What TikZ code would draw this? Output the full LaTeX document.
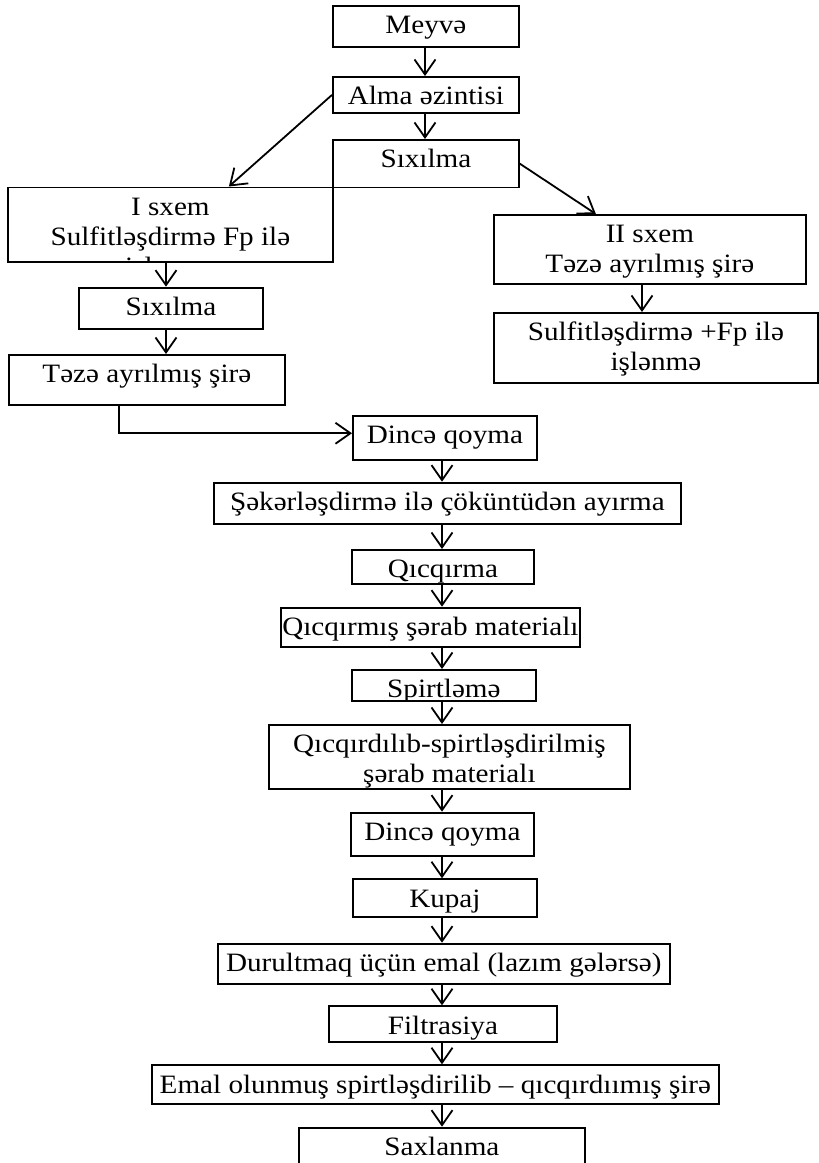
\documentclass[tikz,border=0pt]{standalone}
\usepackage{fontspec}
\setmainfont[FakeStretch=1.1]{Liberation Serif}
\usetikzlibrary{arrows.meta,calc}

% Frame whose text sits at a fixed distance below its top edge (first baseline 28pt down)
\newcommand\flowbox[6]{%
  \pgfmathsetmacro\fbW{#4-#2}%
  \pgfmathsetmacro\fbD{#5-#3-28}%
  \node[frame, minimum width=\fbW pt, text height=28pt, text depth=\fbD pt] (#1) at (#2,#3) {#6};%
}
% Same frame, but its text is cut off at the frame border
\newcommand\clippedbox[6]{%
  \pgfmathsetmacro\fbW{#4-#2}%
  \pgfmathsetmacro\fbH{#5-#3}%
  \node[frame, minimum width=\fbW pt, minimum height=\fbH pt,
        path picture={\node[boxtext, anchor=base] (#1-text)
          at ([yshift=-28pt]path picture bounding box.north) {#6};}] (#1) at (#2,#3) {};%
}
\newcommand\twolines[2]{\begin{tabular}[t]{@{}c@{}}#1\\#2\end{tabular}}
\newcommand\threelines[3]{\begin{tabular}[t]{@{}c@{}}#1\\#2\\#3\end{tabular}}

\begin{document}
\begin{tikzpicture}[x=1pt, y=-1pt,
  boxtext/.style={font=\fontsize{26.5}{30}\selectfont, inner sep=0pt},
  frame/.style={draw, line width=1.8pt, inner sep=0pt, anchor=north west,
                font=\fontsize{26.5}{30}\selectfont},
  arr/.style={line width=1.8pt, -{Straight Barb[length=15pt, width=21pt, line width=1.8pt]}}]

\useasboundingbox (0,0) rectangle (819,1163);

% top column
\flowbox{meyve}{332}{5}{518}{46}{Meyvə}
\flowbox{alma}{332}{76}{518}{112}{Alma əzintisi}
\flowbox{sixilma1}{332}{139}{518}{186.5}{Sıxılma}

% scheme I
\clippedbox{isxem}{7}{186.5}{332}{261}{\threelines{I sxem}{Sulfitləşdirmə Fp ilə}{işlənmə}}
\flowbox{sixilma2}{78}{286.7}{262}{328.3}{Sıxılma}
\flowbox{teze}{8}{354}{284}{404}{Təzə ayrılmış şirə}

% scheme II
\flowbox{iisxem}{493}{214}{805}{283.3}{\twolines{II sxem}{Təzə ayrılmış şirə}}
\flowbox{sulfit}{493}{312}{817}{382}{\twolines{Sulfitləşdirmə +Fp ilə}{işlənmə}}

% main chain
\flowbox{dince1}{352}{415}{536}{459.3}{Dincə qoyma}
\flowbox{seker}{213}{481.7}{680}{523}{Şəkərləşdirmə ilə çöküntüdən ayırma}
\flowbox{qicqirma}{351}{549}{533}{583.3}{Qıcqırma}
\flowbox{qicqirmis}{280}{606.7}{579}{646}{Qıcqırmış şərab materialı}
\clippedbox{spirt}{351}{669}{535}{700}{Spirtləmə}
\flowbox{qicqirdilib}{268}{724}{629}{787.7}{\twolines{Qıcqırdılıb-spirtləşdirilmiş}{şərab materialı}}
\flowbox{dince2}{350}{811.7}{533}{855}{Dincə qoyma}
\flowbox{kupaj}{352}{878.3}{536}{916}{Kupaj}
\flowbox{durult}{216.7}{942.7}{669}{983.3}{Durultmaq üçün emal (lazım gələrsə)}
\flowbox{filtr}{328}{1005.3}{556}{1041}{Filtrasiya}
\flowbox{emal}{151}{1064.3}{718}{1102.7}{Emal olunmuş spirtləşdirilib – qıcqırdıımış şirə}
\flowbox{saxlanma}{298}{1126.7}{584}{1185}{Saxlanma}

% arrow columns
\coordinate (colT) at (425,0);
\coordinate (colL) at (166,0);
\coordinate (colR) at (642,0);
\coordinate (colM) at (442,0);
\coordinate (tezeOut) at (119,0);

\draw[arr] (meyve.south -| colT) -- (alma.north -| colT);
\draw[arr] (alma.south -| colT) -- (sixilma1.north -| colT);
\draw[arr] (alma.west) -- ([xshift=58.5pt]isxem.north);
\draw[arr] (sixilma1.east) -- ([xshift=-54pt]iisxem.north);

\draw[arr] (isxem.south -| colL) -- (sixilma2.north -| colL);
\draw[arr] (sixilma2.south -| colL) -- (teze.north -| colL);
\draw[arr] (teze.south -| tezeOut) |- ([yshift=4.8pt]dince1.west);

\draw[arr] (iisxem.south -| colR) -- (sulfit.north -| colR);

\draw[arr] (dince1.south -| colM) -- (seker.north -| colM);
\draw[arr] (seker.south -| colM) -- (qicqirma.north -| colM);
\draw[arr] (qicqirma.south -| colM) -- (qicqirmis.north -| colM);
\draw[arr] (qicqirmis.south -| colM) -- (spirt.north -| colM);
\draw[arr] (spirt.south -| colM) -- (qicqirdilib.north -| colM);
\draw[arr] (qicqirdilib.south -| colM) -- (dince2.north -| colM);
\draw[arr] (dince2.south -| colM) -- (kupaj.north -| colM);
\draw[arr] (kupaj.south -| colM) -- (durult.north -| colM);
\draw[arr] (durult.south -| colM) -- (filtr.north -| colM);
\draw[arr] (filtr.south -| colM) -- (emal.north -| colM);
\draw[arr] (emal.south -| colM) -- (saxlanma.north -| colM);
\end{tikzpicture}
\end{document}
